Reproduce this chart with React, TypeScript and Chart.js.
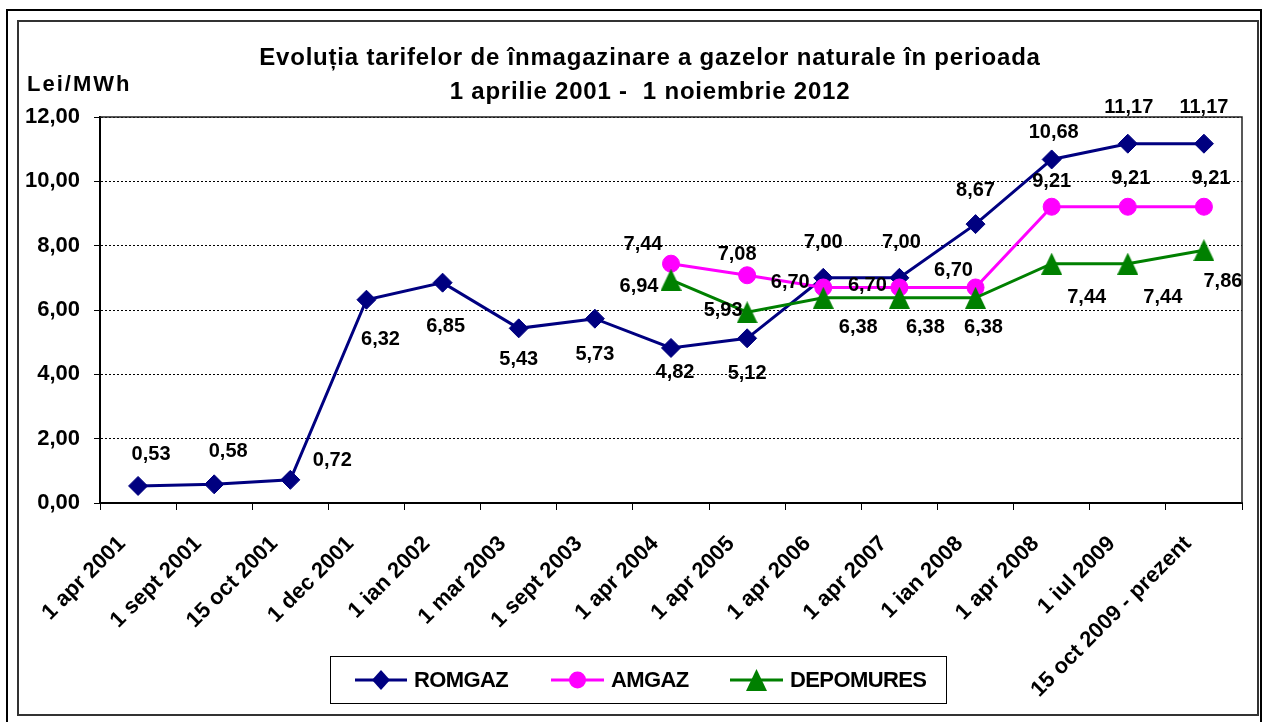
import React, { useEffect, useRef } from 'react';
import { Chart, registerables } from 'chart.js';

Chart.register(...registerables);

// ---- data ----
const categories = [
  '1 apr 2001', '1 sept 2001', '15 oct 2001', '1 dec 2001', '1 ian 2002',
  '1 mar 2003', '1 sept 2003', '1 apr 2004', '1 apr 2005', '1 apr 2006',
  '1 apr 2007', '1 ian 2008', '1 apr 2008', '1 iul 2009', '15 oct 2009 - prezent',
];
const romgaz = [0.53, 0.58, 0.72, 6.32, 6.85, 5.43, 5.73, 4.82, 5.12, 7.0, 7.0, 8.67, 10.68, 11.17, 11.17];
const amgaz = [null, null, null, null, null, null, null, 7.44, 7.08, 6.7, 6.7, 6.7, 9.21, 9.21, 9.21];
const depomures = [null, null, null, null, null, null, null, 6.94, 5.93, 6.38, 6.38, 6.38, 7.44, 7.44, 7.86];
const yTicks = [0, 2, 4, 6, 8, 10, 12];
const titleLines = ['Evoluția tarifelor de înmagazinare a gazelor naturale în perioada', '1 aprilie 2001 -  1 noiembrie 2012'];
const unitLabel = 'Lei/MWh';
const seriesNames = ['ROMGAZ', 'AMGAZ', 'DEPOMURES'];

// ---- label placement (style) ----
const romgazLabelOffsets = [
  [13, -31], [14, -33], [42, -19], [14, 40], [3, 44], [0, 31], [0, 36], [4, 25], [0, 35],
  [0, -35], [2, -35], [0, -34], [2, -27], [1, -36], [0, -36],
];
const amgazLabelOffsets = [
  null, null, null, null, null, null, null,
  [-28, -19], [-10, -21], [-33, -5], [-32, -2], [-22, -17], [0, -25], [3, -28], [7, -28],
];
const depomuresLabelOffsets = [
  null, null, null, null, null, null, null,
  [-32, 7], [-24, -2], [35, 30], [26, 30], [8, 30], [35, 34], [35, 34], [19, 31],
];

const NAVY = '#000080';
const MAGENTA = '#FF00FF';
const GREEN = '#008000';
const FONT = 'Arial, "Liberation Sans", sans-serif';

function fmt(v: number) {
  return v.toFixed(2).replace('.', ',');
}

function makeTriangle(w: number, h: number, color: string) {
  const c = document.createElement('canvas');
  c.width = w;
  c.height = h;
  const g = c.getContext('2d')!;
  g.fillStyle = color;
  g.beginPath();
  g.moveTo(w / 2, 0);
  g.lineTo(w, h);
  g.lineTo(0, h);
  g.closePath();
  g.fill();
  return c;
}

const decorPlugin = {
  id: 'decor',
  beforeDraw(chart: any) {
    const ctx = chart.ctx;
    ctx.save();
    ctx.fillStyle = '#fff';
    ctx.fillRect(0, 0, chart.width, chart.height);
    // outer frame
    ctx.strokeStyle = '#000';
    ctx.lineWidth = 2;
    ctx.strokeRect(7, 10, 1254, 720);
    // inner frame
    ctx.strokeStyle = '#333';
    ctx.lineWidth = 2;
    ctx.strokeRect(18, 21, 1240, 694);
    ctx.restore();
  },
  afterDraw(chart: any) {
    const ctx = chart.ctx;
    const a = chart.chartArea;
    ctx.save();
    // plot border
    ctx.strokeStyle = '#222';
    ctx.lineWidth = 1.5;
    ctx.beginPath();
    ctx.moveTo(a.left, a.top);
    ctx.lineTo(a.right, a.top);
    ctx.lineTo(a.right, a.bottom);
    ctx.stroke();
    // title
    ctx.fillStyle = '#000';
    ctx.font = `bold 24px ${FONT}`;
    ctx.textAlign = 'center';
    ctx.textBaseline = 'middle';
    (ctx as any).letterSpacing = '0.8px';
    ctx.fillText(titleLines[0], 650, 58);
    ctx.fillText(titleLines[1], 650, 92);
    // unit
    ctx.textAlign = 'left';
    ctx.font = `bold 22px ${FONT}`;
    (ctx as any).letterSpacing = '2px';
    ctx.fillText(unitLabel, 27, 85);
    (ctx as any).letterSpacing = '0px';

    // legend
    ctx.strokeStyle = '#000';
    ctx.lineWidth = 1;
    ctx.strokeRect(330.5, 656.5, 616, 47);
    const ly = 680;
    const items = [
      { x0: 355, x1: 407, color: NAVY, text: seriesNames[0], tx: 414, mark: 'diamond' },
      { x0: 551, x1: 604, color: MAGENTA, text: seriesNames[1], tx: 611, mark: 'circle' },
      { x0: 730, x1: 783, color: GREEN, text: seriesNames[2], tx: 790, mark: 'triangle' },
    ];
    ctx.font = `bold 22px ${FONT}`;
    (ctx as any).letterSpacing = '-0.6px';
    ctx.textBaseline = 'middle';
    for (const it of items) {
      ctx.strokeStyle = it.color;
      ctx.lineWidth = 3;
      ctx.beginPath();
      ctx.moveTo(it.x0, ly);
      ctx.lineTo(it.x1, ly);
      ctx.stroke();
      const cx = (it.x0 + it.x1) / 2;
      ctx.fillStyle = it.color;
      ctx.beginPath();
      if (it.mark === 'diamond') {
        ctx.moveTo(cx, ly - 10);
        ctx.lineTo(cx + 9, ly);
        ctx.lineTo(cx, ly + 10);
        ctx.lineTo(cx - 9, ly);
      } else if (it.mark === 'circle') {
        ctx.arc(cx, ly, 8.5, 0, Math.PI * 2);
      } else {
        ctx.moveTo(cx, ly - 11);
        ctx.lineTo(cx + 10.5, ly + 11);
        ctx.lineTo(cx - 10.5, ly + 11);
      }
      ctx.closePath();
      ctx.fill();
      ctx.fillStyle = '#000';
      ctx.fillText(it.text, it.tx, ly + 1);
    }
    (ctx as any).letterSpacing = '0px';
    ctx.restore();
  },
  afterDatasetsDraw(chart: any) {
    const ctx = chart.ctx;
    const offsets = [romgazLabelOffsets, amgazLabelOffsets, depomuresLabelOffsets];
    ctx.save();
    ctx.fillStyle = '#000';
    ctx.font = `bold 20px ${FONT}`;
    ctx.textAlign = 'center';
    ctx.textBaseline = 'middle';
    chart.data.datasets.forEach((ds: any, di: number) => {
      const meta = chart.getDatasetMeta(di);
      meta.data.forEach((pt: any, i: number) => {
        const v = ds.data[i];
        const off = offsets[di][i];
        if (v == null || !off) return;
        ctx.fillText(fmt(v), pt.x + off[0], pt.y + off[1]);
      });
    });
    ctx.restore();
  },
};

export default function App() {
  const ref = useRef<HTMLCanvasElement | null>(null);

  useEffect(() => {
    const canvas = ref.current!;
    const tri = makeTriangle(21, 22, GREEN);
    const chart = new Chart(canvas, {
      type: 'line',
      data: {
        labels: categories,
        datasets: [
          {
            label: seriesNames[0],
            data: romgaz,
            borderColor: NAVY,
            backgroundColor: NAVY,
            borderWidth: 3,
            pointStyle: 'rectRot',
            pointRadius: 9.5,
            pointBorderWidth: 1,
            order: 3,
          },
          {
            label: seriesNames[1],
            data: amgaz,
            borderColor: MAGENTA,
            backgroundColor: MAGENTA,
            borderWidth: 3,
            pointStyle: 'circle',
            pointRadius: 8.5,
            pointBorderWidth: 1,
            order: 2,
          },
          {
            label: seriesNames[2],
            data: depomures,
            borderColor: GREEN,
            backgroundColor: GREEN,
            borderWidth: 3,
            pointStyle: tri as any,
            pointRadius: 11,
            order: 1,
          },
        ],
      },
      options: {
        responsive: false,
        animation: false,
        devicePixelRatio: 1,
        events: [],
        layout: { padding: { top: 117, left: 0, right: 21, bottom: 4 } },
        plugins: {
          legend: { display: false },
          title: { display: false },
          tooltip: { enabled: false },
        },
        scales: {
          x: {
            type: 'category',
            offset: true,
            grid: {
              offset: true,
              drawOnChartArea: false,
              drawTicks: true,
              tickLength: 7,
              color: '#000',
              lineWidth: 1,
            },
            border: { display: true, color: '#000', width: 2 },
            ticks: {
              autoSkip: false,
              minRotation: 45,
              maxRotation: 45,
              padding: 21,
              labelOffset: -16,
              color: '#000',
              font: { family: FONT, size: 22, weight: 'bold' },
            },
            afterFit(scale: any) {
              scale.height = 215;
            },
          },
          y: {
            min: 0,
            max: 12,
            afterBuildTicks(scale: any) {
              scale.ticks = yTicks.map((v) => ({ value: v }));
            },
            grid: {
              color: '#000',
              lineWidth: 1,
              drawTicks: true,
              tickLength: 6,
              tickBorderDash: [],
            },
            border: { display: true, color: '#000', width: 2, dash: [2, 2] },
            ticks: {
              padding: 14,
              color: '#000',
              font: { family: FONT, size: 22, weight: 'bold' },
              callback: (v: any) => fmt(Number(v)),
            },
            afterFit(scale: any) {
              scale.width = 100;
            },
          },
        },
      } as any,
      plugins: [decorPlugin],
    });
    return () => chart.destroy();
  }, []);

  return (
    <div style={{ position: 'fixed', left: 0, top: 0, width: 1263, height: 722, background: '#fff' }}>
      <canvas ref={ref} width={1263} height={722} style={{ display: 'block', width: 1263, height: 722 }} />
    </div>
  );
}
